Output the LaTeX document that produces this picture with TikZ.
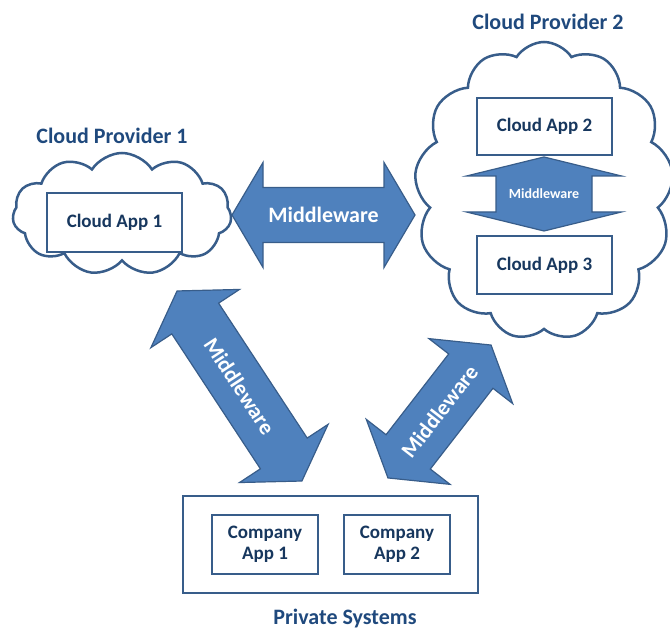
\documentclass[tikz,border=0pt]{standalone}
\usepackage{fontspec}
\setmainfont{Carlito}
\usetikzlibrary{shapes.symbols}
\definecolor{titleblue}{RGB}{31,73,125}
\definecolor{lineblue}{RGB}{56,93,138}
\definecolor{fillblue}{RGB}{79,129,189}
\definecolor{textnavy}{RGB}{23,55,94}
\newcommand\blockarrow[6]{%
  \begin{scope}[shift={#1}, rotate=#2]
    \draw[fill=fillblue, draw=lineblue, line width=1.2pt, line join=miter]
      (-#3,0) -- (-#3+#4,#5) -- (-#3+#4,#6) -- (#3-#4,#6) -- (#3-#4,#5) -- (#3,0)
      -- (#3-#4,-#5) -- (#3-#4,-#6) -- (-#3+#4,-#6) -- (-#3+#4,-#5) -- cycle;
  \end{scope}}
\begin{document}
\begin{tikzpicture}[x=1pt,y=1pt,
  cloudshape/.style={cloud, cloud puffs=11, cloud puff arc=115, cloud ignores aspect,
    draw=lineblue, line width=2.5pt, fill=white, inner sep=0pt},
  appbox/.style={draw=lineblue, line width=2.5pt, fill=white, inner sep=0pt,
    font=\fontsize{19}{21}\selectfont\bfseries, text=textnavy, align=center},
  titletext/.style={font=\fontsize{22}{24}\selectfont\bfseries, text=titleblue,
    anchor=base, inner sep=0pt},
  mwlabel/.style={text=white, font=\fontsize{22}{24}\selectfont\bfseries, inner sep=0pt}]
\useasboundingbox (0,0) rectangle (670,628);
% clouds
\node[cloudshape, minimum width=219pt, minimum height=122pt] (cloud1) at (122,414) {};
\node[cloudshape, cloud puffs=13, minimum width=259pt, minimum height=298pt] (cloud2) at (544,437) {};
% titles
\node[titletext] (t1) at (112,484) {Cloud Provider 1};
\node[titletext] (t2) at (548,598) {Cloud Provider 2};
% cloud apps
\node[appbox, minimum width=135pt, minimum height=59pt] (app1) at (114.5,405.5) {Cloud App 1};
\node[appbox, minimum width=135pt, minimum height=57pt] (app2) at (544.5,501.5) {Cloud App 2};
\node[appbox, minimum width=135pt, minimum height=58pt] (app3) at (544.5,363) {Cloud App 3};
% private systems
\node[draw=lineblue, line width=2.5pt, minimum width=295pt, minimum height=97pt, inner sep=0pt] (priv) at (330.5,83.5) {};
\node[appbox, minimum width=106pt, minimum height=59pt] (comp1) at (265,83.5) {Company\\App 1};
\node[appbox, minimum width=106pt, minimum height=59pt] (comp2) at (397,83.5) {Company\\App 2};
\node[titletext] (ps) at (345,3) {Private Systems};
% middleware arrows
\blockarrow{(544,434)}{90}{37}{19}{77.5}{48}
\node[text=white, font=\fontsize{14}{16}\selectfont\bfseries, inner sep=0pt] (mw0) at (544,434) {Middleware};
\blockarrow{(323.5,413)}{0}{91.5}{31}{52.5}{27.5}
\node[mwlabel] (mw1) at (323.5,413) {Middleware};
\blockarrow{(239.5,242)}{-56.7}{113.7}{33}{53}{28}
\node[mwlabel, rotate=-56.7] (mw2) at (239.5,242) {Middleware};
\blockarrow{(439.5,216.5)}{52.2}{84.1}{33}{53}{28}
\node[mwlabel, rotate=52.2] (mw3) at (439.5,216.5) {Middleware};
\end{tikzpicture}
\end{document}
